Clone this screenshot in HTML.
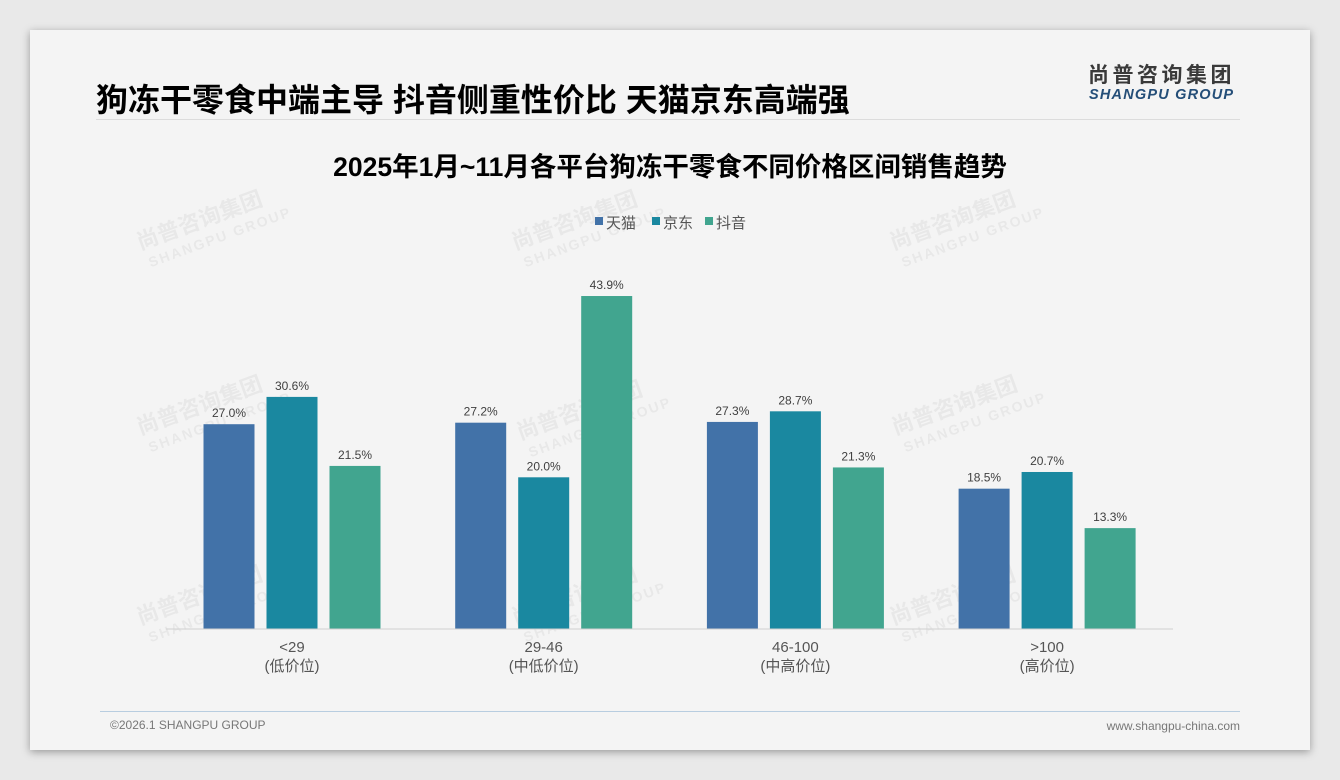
<!DOCTYPE html>
<html><head><meta charset="utf-8"><style>
body{margin:0;width:1340px;height:780px;background:#e9e9e9;position:relative;overflow:hidden;font-family:"Liberation Sans","Noto Sans CJK SC",sans-serif}
#slide{position:absolute;left:30px;top:30px;width:1280px;height:720px;background:#f4f4f4;box-shadow:0 2px 8px rgba(0,0,0,.35)}
.abs{position:absolute}
</style></head><body>
<div id="slide"></div>
<div class="abs" style="left:96px;top:75px;font-size:32px;font-weight:bold;color:#000;white-space:nowrap">狗冻干零食中端主导 抖音侧重性价比 天猫京东高端强</div>
<div class="abs" style="left:96px;top:119px;width:1144px;height:1px;background:#dcdcdc"></div>
<div class="abs" style="left:1088px;top:65px;font-size:21px;line-height:21px;font-weight:bold;color:#3a3a3a;letter-spacing:3.5px;white-space:nowrap">尚普咨询集团</div>
<div class="abs" style="left:1089px;top:88px;font-size:14.5px;line-height:15px;font-weight:bold;font-style:italic;color:#244e78;letter-spacing:1.2px;white-space:nowrap">SHANGPU GROUP</div>
<div class="abs" style="left:100px;top:711px;width:1140px;height:1px;background:#b8cde0"></div>
<div class="abs" style="left:110px;top:718px;font-size:12px;color:#777">©2026.1 SHANGPU GROUP</div>
<div class="abs" style="right:100px;top:719px;font-size:12px;color:#777">www.shangpu-china.com</div>
<svg class="abs" style="left:0;top:0" width="1340" height="780">
<g id="wm" font-family="Liberation Sans,Noto Sans CJK SC,sans-serif" font-weight="bold" fill="#000" opacity="0.05"></g>
<text x="670" y="176" text-anchor="middle" font-size="26.5" font-weight="bold" fill="#000">2025年1月~11月各平台狗冻干零食不同价格区间销售趋势</text>
<g id="legend"></g>
<g id="bars"></g>
<line x1="166" x2="1173" y1="629" y2="629" stroke="#d0d0d0"/>
<g id="xlab"></g>
</svg>
<script>
const categories=["<29","29-46","46-100",">100"];
const subLabels=["(低价位)","(中低价位)","(中高价位)","(高价位)"];
const seriesNames=["天猫","京东","抖音"];
const tmall=[27.0,27.2,27.3,18.5];
const jd=[30.6,20.0,28.7,20.7];
const douyin=[21.5,43.9,21.3,13.3];
const colors=["#4272a8","#1a88a0","#41a58f"];
const series=[tmall,jd,douyin];
const NS="http://www.w3.org/2000/svg";
function mk(t,a,p){const e=document.createElementNS(NS,t);for(const k in a)e.setAttribute(k,a[k]);p.appendChild(e);return e;}
const y=v=>629-v*7.585;
const xc=i=>292+i*251.7;
const bars=document.getElementById('bars');
series.forEach((s,si)=>s.forEach((v,i)=>{
 const cx=xc(i)+(si-1)*63;
 const r=mk('rect',{x:cx-25.5,y:y(v),width:51,height:629-y(v),fill:colors[si]},bars);
 
 
 const t=mk('text',{x:cx,y:y(v)-7,'text-anchor':'middle','font-size':12,fill:'#404040'},bars);
 t.textContent=v.toFixed(1)+'%';
 
 
}));
const xl=document.getElementById('xlab');
categories.forEach((c,i)=>{
 const t=mk('text',{x:xc(i),y:652,'text-anchor':'middle','font-size':15,fill:'#555'},xl);t.textContent=c;
 
 
 const t2=mk('text',{x:xc(i),y:671,'text-anchor':'middle','font-size':15,fill:'#555'},xl);t2.textContent=subLabels[i];
 
 
});
const lg=document.getElementById('legend');
const lx=[595,652,705];
seriesNames.forEach((n,i)=>{
 const g=mk('g',{},lg);
 
 
 mk('rect',{x:lx[i],y:217,width:8,height:8,fill:colors[i]},g);
 const t=mk('text',{x:lx[i]+11,y:228,'font-size':15,fill:'#555'},g);t.textContent=n;
});
const wm=document.getElementById('wm');
[[140,250],[515,250],[893,250],[140,435],[520,440],[895,435],[140,625],[515,625],[893,625]].forEach(p=>{
 const g=mk('g',{transform:`translate(${p[0]},${p[1]}) rotate(-20)`},wm);
 
 
 const a=mk('text',{x:0,y:0,'font-size':22},g);a.textContent='尚普咨询集团';
 const b=mk('text',{x:4,y:20,'font-size':14,'letter-spacing':2},g);b.textContent='SHANGPU GROUP';
});
</script>
</body></html>
